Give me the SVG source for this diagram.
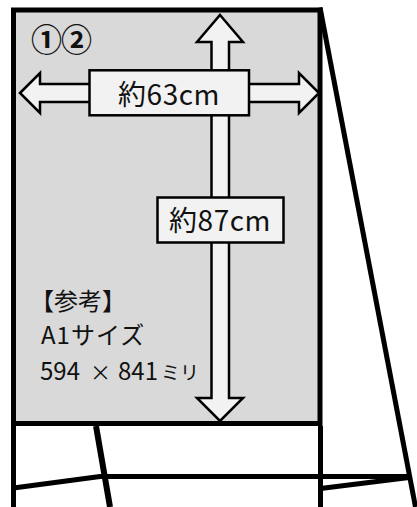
<svg xmlns="http://www.w3.org/2000/svg" width="417" height="507" viewBox="0 0 417 507">
<style>
.leg{stroke:#000;stroke-width:5;fill:none}
.arrow{fill:#f2f2f2;stroke:#000;stroke-width:2.5;stroke-linejoin:miter}
.lbl{fill:#f2f2f2;stroke:#000;stroke-width:2.5}
.t{font-family:"Noto Sans CJK JP","Noto Sans",sans-serif;fill:#111}
</style>
<g id="stand">
<line class="leg" x1="320" y1="7.5" x2="415.5" y2="507"/>
<line class="leg" x1="13.5" y1="426" x2="13.5" y2="507"/>
<line class="leg" x1="320.5" y1="426" x2="320.5" y2="507"/>
<line class="leg" x1="96" y1="426" x2="110" y2="507" style="stroke-width:6"/>
<line class="leg" x1="99" y1="476.5" x2="409" y2="476.5"/>
<line class="leg" x1="13.5" y1="488" x2="100" y2="476.5"/>
<line class="leg" x1="320.5" y1="488.5" x2="409" y2="477.5"/>
</g>
<g id="board">
<rect x="13.5" y="10" width="306.5" height="413.5" fill="#d9d9d9" stroke="#000" stroke-width="5"/>
<text class="t" x="31" y="51" font-size="31" font-weight="bold" letter-spacing="-1">①②</text>
</g>
<g id="connectors">
<polygon class="arrow" points="220,15 243,42 229,42 229,398 243,398 220,421 197,398 211.5,398 211.5,42 197,42"/>
<polygon class="arrow" points="20,93 40,73 40,84 299,84 299,73 319,93 299,113 299,102 40,102 40,113"/>
</g>
<g id="width-label">
<rect class="lbl" x="89.5" y="70.3" width="159.5" height="45"/>
<text class="t" x="169" y="104.5" font-size="28" text-anchor="middle" letter-spacing="0.5">約63cm</text>
</g>
<g id="height-label">
<rect class="lbl" x="157.5" y="197.5" width="126" height="45"/>
<text class="t" x="220" y="230.5" font-size="28" text-anchor="middle" letter-spacing="0.5">約87cm</text>
</g>
<g id="note">
<text class="t" x="30" y="310" font-size="24">【参考】</text>
<text class="t" x="41" y="343.5" font-size="24" letter-spacing="1">A1サイズ</text>
<text class="t" y="380" font-size="24"><tspan x="40">594</tspan><tspan x="90" font-size="21">×</tspan><tspan x="118">841</tspan><tspan x="161" font-size="19">ミリ</tspan></text>
</g>
</svg>
